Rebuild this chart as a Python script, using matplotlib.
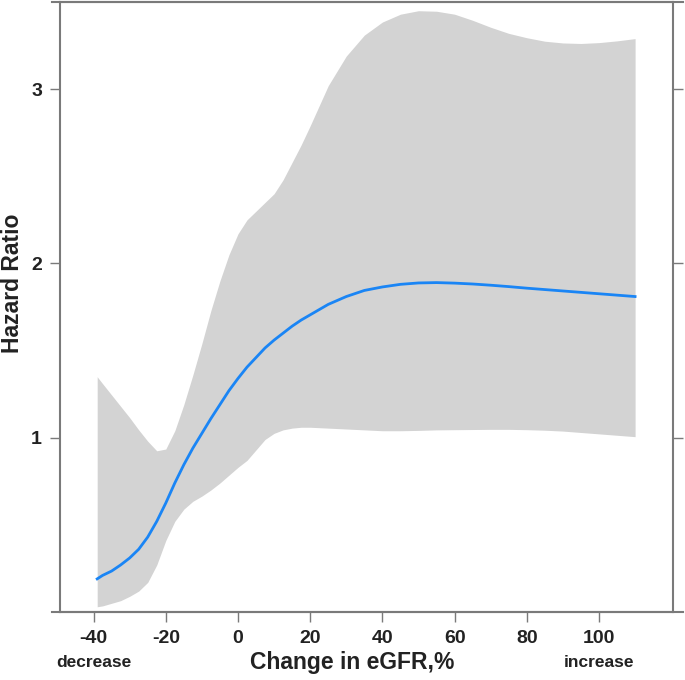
import matplotlib.pyplot as plt
from matplotlib.lines import Line2D

# data
change = [-39, -37.5, -35, -32.5, -30, -27.5, -25, -22.5, -20, -17.5, -15, -12.5, -10,
          -7.5, -5, -2.5, 0, 2.5, 5, 7.5, 10, 12.5, 15, 17.5, 20, 25, 30, 35, 40, 45,
          50, 55, 60, 65, 70, 75, 80, 85, 90, 95, 100, 105, 110]
hr = [0.19, 0.21, 0.235, 0.27, 0.31, 0.36, 0.43, 0.52, 0.625, 0.74, 0.845, 0.94, 1.025,
      1.11, 1.19, 1.27, 1.34, 1.405, 1.46, 1.515, 1.56, 1.60, 1.64, 1.675, 1.705, 1.765,
      1.81, 1.845, 1.865, 1.88, 1.888, 1.89, 1.887, 1.882, 1.875, 1.867, 1.858, 1.85,
      1.842, 1.834, 1.826, 1.818, 1.81]
upper = [1.35, 1.31, 1.245, 1.18, 1.115, 1.045, 0.98, 0.925, 0.935, 1.04, 1.19, 1.36,
         1.54, 1.73, 1.90, 2.05, 2.17, 2.25, 2.30, 2.35, 2.40, 2.48, 2.58, 2.68, 2.79,
         3.02, 3.19, 3.31, 3.385, 3.43, 3.45, 3.447, 3.43, 3.395, 3.355, 3.32, 3.295,
         3.275, 3.265, 3.262, 3.267, 3.277, 3.29]
lower = [0.03, 0.035, 0.05, 0.065, 0.09, 0.12, 0.17, 0.27, 0.41, 0.52, 0.59, 0.635, 0.665,
         0.70, 0.74, 0.785, 0.83, 0.87, 0.93, 0.99, 1.025, 1.045, 1.055, 1.06, 1.06, 1.055,
         1.05, 1.045, 1.04, 1.04, 1.042, 1.045, 1.046, 1.047, 1.048, 1.048, 1.046, 1.043,
         1.038, 1.03, 1.022, 1.014, 1.006]
xticks = [-40, -20, 0, 20, 40, 60, 80, 100]
yticks = [1, 2, 3]

plt.rcParams['font.family'] = ['Liberation Sans', 'DejaVu Sans']
plt.rcParams['axes.unicode_minus'] = False
frame = '#7a7a7a'
ink = '#222222'

fig = plt.figure(figsize=(6.85, 6.80), dpi=100)
ax = fig.add_axes([60 / 685, 68 / 680, 613 / 685, 610 / 680])

ax.fill_between(change, lower, upper, color='#d3d3d3', linewidth=0)
ax.plot(change, hr, color='#1a85f5', linewidth=2)

ax.set_xlim(-49.3, 120.5)
ax.set_ylim(0, 3.5)
ax.set_xticks(xticks)
ax.set_yticks(yticks)
ax.tick_params(axis='both', labelsize=14, length=7, width=1, color=frame, pad=6)
ax.tick_params(axis='y', right=True)
for lab in ax.get_xticklabels() + ax.get_yticklabels():
    lab.set_fontweight('bold')
    lab.set_color(ink)
for s in ax.spines.values():
    s.set_color(frame)
    s.set_linewidth(1.5)

# horizontal frame lines run a little past the corners
fig.add_artist(Line2D([52 / 685, 683 / 685], [678 / 680, 678 / 680], color=frame, lw=1.5))
fig.add_artist(Line2D([52 / 685, 683 / 685], [68 / 680, 68 / 680], color=frame, lw=1.5))

fig.text(352 / 685, 17 / 680, 'Change in eGFR,%', ha='center', va='center',
         fontsize=16.5, fontweight='bold', color=ink)
fig.text(13 / 685, 397 / 680, 'Hazard Ratio', ha='center', va='center', rotation=90,
         fontsize=16.5, fontweight='bold', color=ink)
ax.text(-40, -0.29, 'decrease', ha='center', va='center', fontsize=12.5,
        fontweight='bold', color=ink)
ax.text(100, -0.29, 'increase', ha='center', va='center', fontsize=12.5,
        fontweight='bold', color=ink)

fig.savefig('out.png', dpi=100)
